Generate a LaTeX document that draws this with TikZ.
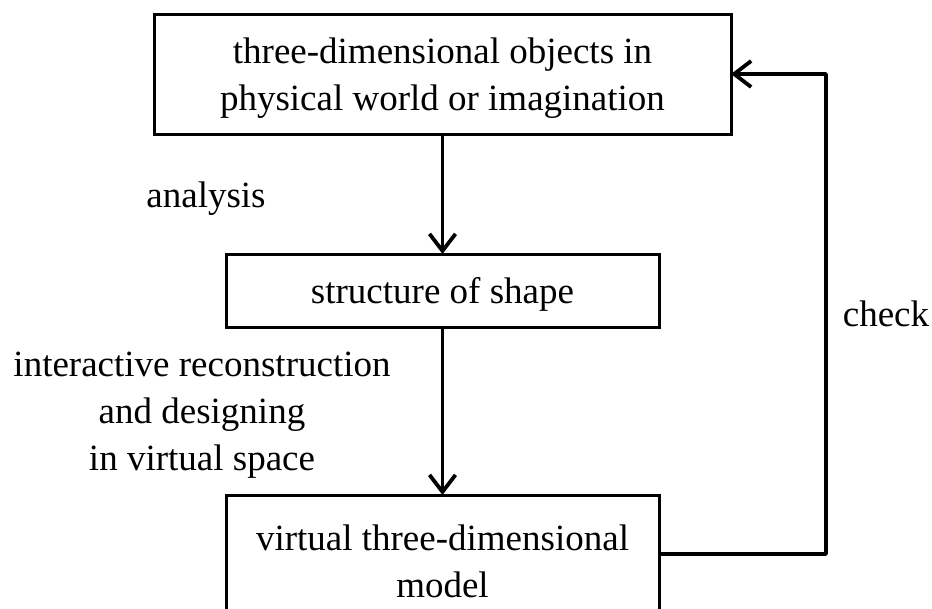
\documentclass[tikz,border=0pt]{standalone}
\usepackage{fontspec}
\setmainfont{Liberation Serif}
\usetikzlibrary{arrows.meta}
\tikzset{
  box/.style={draw, line width=3pt, inner sep=0pt, outer sep=0pt},
  lbl/.style={inner sep=0pt, align=center, font=\fontsize{37}{47}\selectfont},
  arr/.style={line width=3.8pt, line join=round,
    -{Straight Barb[length=17pt,width=26pt,line width=3.8pt]}},
}
\begin{document}
\begin{tikzpicture}[x=1pt,y=-1pt]
\useasboundingbox (0,0) rectangle (932,608);
\node[box, minimum width=577pt, minimum height=120pt] (top) at (442.5,74) {};
\node[box, minimum width=433pt, minimum height=73pt] (mid) at (442.5,290.5) {};
\node[box, minimum width=433pt, minimum height=118pt] (bot) at (442.5,554) {};
\node[lbl, anchor=base] (toptext) at (442.5,110)
  {three-dimensional objects in\\physical world or imagination};
\node[lbl, anchor=base] (midtext) at (442.5,303) {structure of shape};
\node[lbl, anchor=base] (bottext) at (442.5,597)
  {virtual three-dimensional\\model};
\node[lbl, anchor=base] (an) at (206,207) {analysis};
\node[lbl, anchor=base] (ck) at (886,326) {check};
\node[lbl, anchor=base] (ir) at (202,470) {interactive reconstruction\\and designing\\in virtual space};
\coordinate (fb) at (826,74);
\draw[arr] (top.south) -- (mid.north);
\draw[arr] (mid.south) -- (bot.north);
\draw[arr] (bot.east) -| (fb) -- (top.east);
\end{tikzpicture}
\end{document}
